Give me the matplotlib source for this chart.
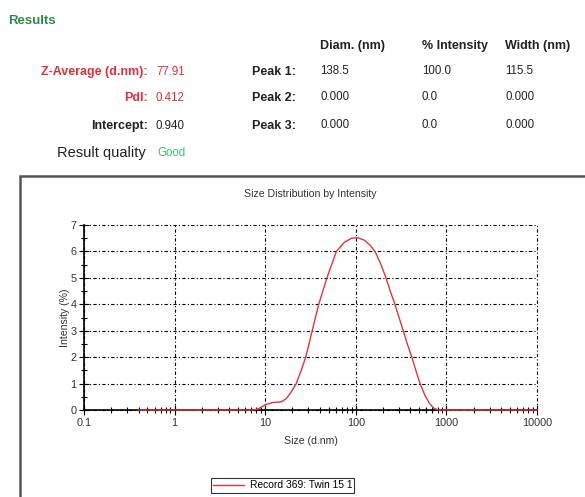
import matplotlib.pyplot as plt
from matplotlib.patches import Rectangle
from matplotlib.ticker import LogLocator, MultipleLocator, FixedLocator, NullFormatter

plt.rcParams['font.family'] = ['Liberation Sans', 'DejaVu Sans']

# (size in d.nm, intensity in %)
sizes = [0.4, 0.7, 1, 2, 4, 6, 7.5, 8.5, 10, 12, 15, 17, 19, 22, 25, 28, 33, 39,
         48, 61, 75, 90, 105, 125, 145, 163, 190, 215, 240, 270, 300, 334, 370,
         415, 460, 512, 580, 650, 720, 810, 1000, 2000, 5000, 10000]
intensity = [0, 0, 0, 0, 0, 0, 0, 0.05, 0.2, 0.28, 0.31, 0.42, 0.64, 1.0, 1.5, 2.0, 3.0, 4.0,
             5.0, 6.0, 6.35, 6.5, 6.52, 6.42, 6.22, 6.0, 5.5, 5.0, 4.5, 4.0, 3.5, 3.0, 2.5,
             2.0, 1.5, 1.0, 0.55, 0.25, 0.08, 0, 0, 0, 0, 0]

x_ticks = [0.1, 1, 10, 100, 1000, 10000]
x_tick_labels = ['0.1', '1', '10', '100', '1000', '10000']

left_labels = ['Z-Average (d.nm):', 'PdI:', 'Intercept:']
left_values = ['77.91', '0.412', '0.940']
left_colors = ['#e0303a', '#e0303a', '#222222']

peak_names = ['Peak 1:', 'Peak 2:', 'Peak 3:']
col_headers = ['Diam. (nm)', '% Intensity', 'Width (nm)']
peak_diam = ['138.5', '0.000', '0.000']
peak_int = ['100.0', '0.0', '0.0']
peak_width = ['115.5', '0.000', '0.000']

W, H = 585, 497
fig = plt.figure(figsize=(W / 100, H / 100), dpi=100)


def fx(px):
    return px / W


def fy(py):
    return 1 - py / H


# header block
fig.text(fx(8), fy(21), 'Results', color='#2e8b45', fontsize=9.5, fontweight='bold', va='center')
rows_y = [72, 98, 126]
for lab, val, col, y in zip(left_labels, left_values, left_colors, rows_y):
    fig.text(fx(148), fy(y), lab, color=col, fontsize=9, fontweight='bold', ha='right', va='center')
    fig.text(fx(156), fy(y), val, color=col, fontsize=8.3, va='center')
fig.text(fx(146), fy(153), 'Result quality', color='#222222', fontsize=10.5, ha='right', va='center')
fig.text(fx(157), fy(153), 'Good', color='#3dbf72', fontsize=8.3, va='center')

col_x = [320, 422, 505]
for cx, h in zip(col_x, col_headers):
    fig.text(fx(cx), fy(46), h, color='#222222', fontsize=9, fontweight='bold', va='center')
for i, y in enumerate(rows_y):
    fig.text(fx(296), fy(y), peak_names[i], color='#222222', fontsize=9, fontweight='bold',
             ha='right', va='center')
    for cx, vals in zip(col_x, [peak_diam, peak_int, peak_width]):
        fig.text(fx(cx), fy(y - 1), vals[i], color='#222222', fontsize=8.3, va='center')

# frame around the chart
fig.patches.append(Rectangle((fx(20), fy(520)), fx(600), fy(176) - fy(520),
                             transform=fig.transFigure, fill=False,
                             edgecolor='#555555', linewidth=1.8))

ax = fig.add_axes([fx(84), fy(410), fx(537) - fx(84), fy(225) - fy(410)])
line, = ax.plot(sizes, intensity, color='#e0363d', linewidth=1.0, clip_on=False,
                label='Record 369: Twin 15 1', zorder=3)
ax.set_xscale('log')
ax.set_xlim(0.1, 10000)
ax.set_ylim(0, 7)

ax.xaxis.set_major_locator(FixedLocator(x_ticks))
ax.set_xticklabels(x_tick_labels)
ax.xaxis.set_minor_locator(LogLocator(base=10, subs=range(2, 10)))
ax.xaxis.set_minor_formatter(NullFormatter())
ax.yaxis.set_major_locator(MultipleLocator(1))
ax.yaxis.set_minor_locator(MultipleLocator(0.5))

ax.tick_params(which='major', direction='inout', length=7, width=0.8, labelsize=7.8,
               labelcolor='#333333', pad=2)
ax.tick_params(which='minor', direction='inout', length=5, width=0.8)
for s in ['top', 'right']:
    ax.spines[s].set_visible(False)
for s in ['left', 'bottom']:
    ax.spines[s].set_linewidth(1.2)

ax.grid(True, which='major', color='black', linewidth=0.8, linestyle=(0, (3, 2, 1, 2)))
for gl in ax.get_xgridlines() + ax.get_ygridlines():
    gl.set_clip_on(False)

ax.set_title('Size Distribution by Intensity', fontsize=7.6, color='#333333', pad=20)
ax.set_xlabel('Size (d.nm)', fontsize=7.6, color='#333333', labelpad=6)
ax.set_ylabel('Intensity (%)', fontsize=7.6, color='#333333', labelpad=0)
ax.set_facecolor('none')

leg = ax.legend(loc='center', bbox_to_anchor=(fx(282.5), fy(485.5)),
                bbox_transform=fig.transFigure, fontsize=7.4, frameon=True,
                fancybox=False, handlelength=3.0, borderpad=0.2, handletextpad=0.6)
leg.get_frame().set_edgecolor('black')
leg.get_frame().set_linewidth(0.8)

fig.savefig('out.png', dpi=100)
